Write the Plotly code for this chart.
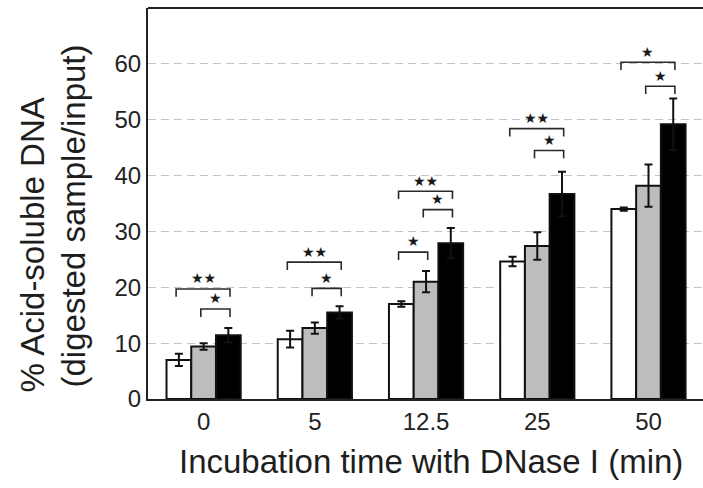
import plotly.graph_objects as go

# ---- data ----
categories = ["0", "5", "12.5", "25", "50"]
white_vals = [7.0, 10.7, 17.0, 24.6, 34.0]
white_err = [1.1, 1.5, 0.5, 0.85, 0.3]
gray_vals = [9.4, 12.7, 21.0, 27.4, 38.2]
gray_err = [0.6, 1.0, 1.9, 2.45, 3.8]
black_vals = [11.4, 15.5, 27.9, 36.7, 49.2]
black_err = [1.3, 1.1, 2.7, 4.0, 4.6]
y_ticks = [0, 10, 20, 30, 40, 50, 60]

# significance brackets: group index, left bar, right bar, height, label
sig_group = [0, 0, 1, 1, 2, 2, 2, 3, 3, 4, 4]
sig_left = [0, 1, 0, 1, 0, 0, 1, 0, 1, 0, 1]
sig_right = [2, 2, 2, 2, 1, 2, 2, 2, 2, 2, 2]
sig_y = [19.7, 16.1, 24.5, 19.8, 26.3, 37.2, 33.9, 48.4, 44.5, 60.3, 56.0]
sig_label = ["★★", "★", "★★", "★", "★", "★★", "★", "★★", "★", "★", "★"]

W, H = 703, 488
L, R, T, B = 148, 0, 8, 89
xpos = list(range(len(categories)))
bar_w = 0.667 / 3

fig = go.Figure()
series = [(white_vals, white_err, "white"), (gray_vals, gray_err, "#bdbdbd"), (black_vals, black_err, "black")]
for vals, errs, col in series:
    fig.add_trace(go.Bar(
        x=xpos, y=vals,
        marker=dict(color=col, line=dict(color="#111", width=2)),
        error_y=dict(type="data", array=errs, visible=True, color="#111", thickness=2, width=4),
        showlegend=False,
    ))

shapes = []
annotations = []
leg = 1.4
for g, a, b, yv, lab in zip(sig_group, sig_left, sig_right, sig_y, sig_label):
    x1 = g + (a - 1) * bar_w - 0.025
    x2 = g + (b - 1) * bar_w + 0.015
    shapes.append(dict(type="path", xref="x", yref="y",
                       path=f"M {x1},{yv - leg} L {x1},{yv} L {x2},{yv} L {x2},{yv - leg}",
                       line=dict(color="#2a2a2a", width=1.6)))
    annotations.append(dict(x=(x1 + x2) / 2, y=yv + 1.9, xref="x", yref="y", text=lab,
                            showarrow=False, xanchor="center", yanchor="middle",
                            font=dict(family="DejaVu Sans", size=14, color="#1a1a1a")))

# top border
shapes.append(dict(type="line", xref="paper", yref="paper", x0=0, x1=1, y0=1, y1=1,
                   line=dict(color="#222", width=2)))

pw = W - L - R
ph = H - T - B
def px_x(p):
    return (p - L) / pw
def px_y(p):
    return (H - B - p) / ph

title_font = dict(family="Liberation Sans, Arial, sans-serif", size=33, color="#1e1e1e")
annotations.append(dict(x=px_x(431), y=px_y(461), xref="paper", yref="paper",
                        text="Incubation time with DNase I (min)", showarrow=False,
                        xanchor="center", yanchor="middle", font=title_font))
annotations.append(dict(x=px_x(32), y=px_y(395), xref="paper", yref="paper",
                        text="% Acid-soluble DNA", showarrow=False, textangle=-90,
                        xanchor="center", yanchor="bottom", font=title_font))
annotations.append(dict(x=px_x(73), y=px_y(390), xref="paper", yref="paper",
                        text="(digested sample/input)", showarrow=False, textangle=-90,
                        xanchor="center", yanchor="bottom", font=title_font))

tick_font = dict(family="Liberation Sans, Arial, sans-serif", size=24, color="#222")
fig.update_layout(
    width=W, height=H,
    margin=dict(l=L, r=R, t=T, b=B, pad=0),
    paper_bgcolor="white", plot_bgcolor="white",
    barmode="group", bargap=0.333, bargroupgap=0,
    shapes=shapes, annotations=annotations,
    xaxis=dict(range=[-0.5, 4.49], tickmode="array", tickvals=xpos, ticktext=categories,
               showline=True, linecolor="#222", linewidth=2, showgrid=False, zeroline=False,
               ticks="", tickfont=tick_font, fixedrange=True),
    yaxis=dict(range=[0, 70], tickmode="array", tickvals=y_ticks,
               showline=True, linecolor="#222", linewidth=2,
               showgrid=True, gridcolor="#c4c4c4", gridwidth=1, griddash="8px,5px",
               zeroline=False, ticks="", tickfont=tick_font, fixedrange=True),
)

fig.write_html("out.html")
